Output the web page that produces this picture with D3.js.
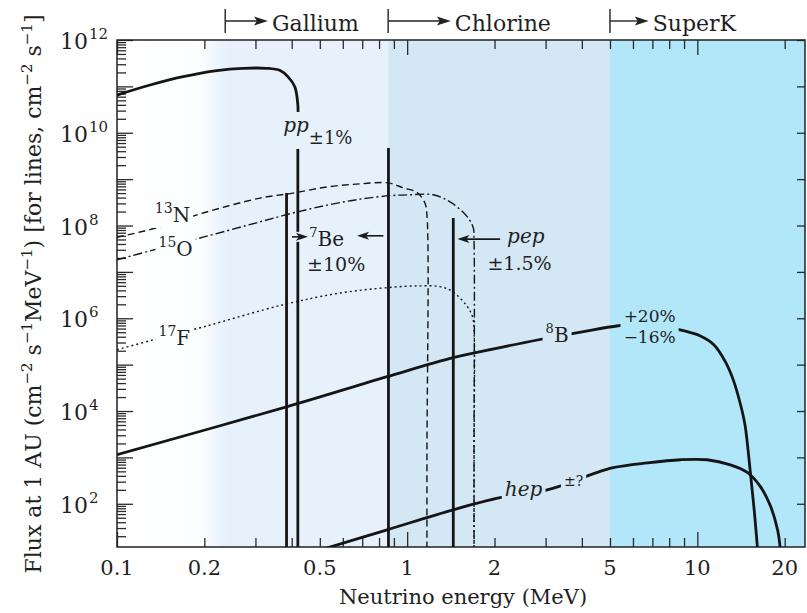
<!DOCTYPE html>
<html>
<head>
<meta charset="utf-8">
<script src="https://cdn.jsdelivr.net/npm/d3@7"></script>
<style>
  body { margin: 0; background: #fff; }
  svg { display: block; }
  text { font-family: "DejaVu Serif", serif; fill: #1f1f1f; }
</style>
</head>
<body>
<svg id="chart" width="807" height="613"></svg>
<script>
// ---- Solar neutrino spectrum (flux at 1 AU) ----

// Continuum spectra: energy (MeV) and flux (cm^-2 s^-1 MeV^-1)
const ppEnergy  = [0.1, 0.13, 0.169, 0.221, 0.272, 0.328, 0.365, 0.388, 0.41, 0.42, 0.42, 0.42, 0.42];
const ppFlux    = [6.5e10, 1.07e11, 1.62e11, 2.19e11, 2.45e11, 2.45e11, 2.19e11, 1.62e11, 9.8e10, 4.0e10, 1.5e10, 1e3, 4];

const n13Energy = [0.1, 0.137, 0.198, 0.311, 0.404, 0.53, 0.688, 0.862, 0.969, 1.08, 1.15, 1.17, 1.17, 1.17];
const n13Flux   = [5.6e7, 8.9e7, 1.86e8, 3.9e8, 5.0e8, 6.8e8, 7.9e8, 8.3e8, 6.5e8, 5.2e8, 3.1e8, 1.7e8, 1e3, 4];

const o15Energy = [0.1, 0.133, 0.198, 0.311, 0.404, 0.53, 0.688, 0.874, 1.02, 1.23, 1.41, 1.61, 1.69, 1.70, 1.70, 1.70];
const o15Flux   = [1.82e7, 2.95e7, 5.6e7, 1.2e8, 1.86e8, 2.75e8, 3.7e8, 4.4e8, 4.6e8, 4.6e8, 3.2e8, 1.55e8, 8.9e7, 4.9e7, 1e3, 4];

const f17Energy = [0.1, 0.133, 0.198, 0.373, 0.587, 0.862, 1.11, 1.30, 1.44, 1.61, 1.68, 1.70, 1.70, 1.70];
const f17Flux   = [2.1e5, 3.4e5, 6.5e5, 1.95e6, 3.5e6, 4.6e6, 5.0e6, 4.8e6, 3.7e6, 1.8e6, 1.07e6, 5.6e5, 1e3, 4];

const b8Energy  = [0.1, 0.384, 0.853, 1.44, 1.79, 2.81, 4.01, 5.34, 6.36, 7.45, 8.95, 10.2, 11.4, 12.5, 13.3, 14.1, 14.6, 15.2, 15.7, 16.1, 16.3];
const b8Flux    = [1.15e3, 1.23e4, 5.5e4, 1.41e5, 1.9e5, 3.4e5, 5.1e5, 6.9e5, 7.6e5, 6.9e5, 5.4e5, 4.2e5, 2.7e5, 1.15e5, 4.7e4, 1.35e4, 5.0e3, 540, 74, 12, 4];

const hepEnergy = [0.5, 0.853, 1.44, 2.09, 2.6, 3.04, 3.32, 4.35, 5.13, 6.72, 8.74, 10.8, 13.0, 14.9, 16.5, 17.9, 18.9, 19.3, 19.45];
const hepFlux   = [10, 27.5, 74, 135, 166, 200, 234, 437, 600, 760, 890, 890, 690, 470, 234, 87, 27.5, 11, 4];

// Line sources: energy (MeV) and flux (cm^-2 s^-1)
const lineNames  = ["7Be", "7Be", "pep"];
const lineEnergy = [0.384, 0.862, 1.442];
const lineFlux   = [5.0e8, 4.7e9, 1.45e8];

// Detector thresholds (MeV)
const detectorNames      = ["Gallium", "Chlorine", "SuperK"];
const detectorThresholds = [0.236, 0.86, 5.0];
const detectorLabelAt    = [0.342, 1.46, 7.02];

// Tick labels
const xTickLabels = [0.1, 0.2, 0.5, 1, 2, 5, 10, 20];
const yTickLabels = [1e2, 1e4, 1e6, 1e8, 1e10, 1e12];

// ---- layout ----
const W = 807, H = 613;
const plot = { left: 117, right: 805, top: 40, bottom: 547 };
const x = d3.scaleLog().domain([0.1, 23.5]).range([plot.left, plot.right]);
const y = d3.scaleLog().domain([11.7, 1e12]).range([plot.bottom, plot.top]);

const svg = d3.select("#chart");
const defs = svg.append("defs");

defs.append("clipPath").attr("id", "plotClip")
  .append("rect")
  .attr("x", plot.left).attr("y", plot.top)
  .attr("width", plot.right - plot.left).attr("height", plot.bottom - plot.top);

// Band 1 fades into the gallium band near its right edge
const grad = defs.append("linearGradient").attr("id", "fadeIn")
  .attr("x1", "0%").attr("x2", "100%").attr("y1", "0%").attr("y2", "0%");
grad.append("stop").attr("offset", "0%").attr("stop-color", "#ffffff");
grad.append("stop").attr("offset", "78%").attr("stop-color", "#fbfdff");
grad.append("stop").attr("offset", "100%").attr("stop-color", "#e7f1fb");

// ---- detector sensitivity bands ----
const bandColors = ["url(#fadeIn)", "#e7f1fb", "#d3e7f5", "#b2e6f9"];
const bandEdges = [x.domain()[0], ...detectorThresholds, x.domain()[1]];
svg.append("g").selectAll("rect")
  .data(bandColors)
  .join("rect")
  .attr("x", (d, i) => x(bandEdges[i]))
  .attr("width", (d, i) => x(bandEdges[i + 1]) - x(bandEdges[i]))
  .attr("y", plot.top).attr("height", plot.bottom - plot.top)
  .attr("fill", d => d);

// ---- axes (ticks point inward) ----
const decadeX = [];
[0.1, 1, 10].forEach(d => { for (let k = 1; k <= 9; k++) { const v = d * k; if (v <= 23.5 + 1e-9) decadeX.push(+v.toPrecision(3)); } });
const isMajorX = v => [0.1, 1, 10].includes(v);

const minorY = [];
for (let e = 1; e <= 12; e++) for (let k = 1; k <= 9; k++) {
  const v = k * Math.pow(10, e);
  if (v >= 11.7 && v <= 1e12 * 1.0001) minorY.push(v);
}
const isMajorY = v => Math.abs(Math.log10(v) - Math.round(Math.log10(v))) < 1e-6;

function styleAxis(g) {
  g.select(".domain").remove();
  g.selectAll(".tick line").attr("stroke", "#2a2a2a").attr("stroke-width", 1.3);
  g.selectAll(".tick text").remove();
}

svg.append("g").attr("transform", `translate(0,${plot.bottom})`)
  .call(d3.axisBottom(x).tickValues(decadeX).tickSizeOuter(0).tickSize(-9))
  .call(styleAxis)
  .call(g => g.selectAll(".tick line").attr("y2", d => isMajorX(d) ? -15 : -9));

svg.append("g").attr("transform", `translate(0,${plot.top})`)
  .call(d3.axisTop(x).tickValues(decadeX).tickSizeOuter(0).tickSize(-9))
  .call(styleAxis)
  .call(g => g.selectAll(".tick line").attr("y2", d => isMajorX(d) ? 15 : 9));

svg.append("g").attr("transform", `translate(${plot.left},0)`)
  .call(d3.axisLeft(y).tickValues(minorY).tickSizeOuter(0).tickSize(-9))
  .call(styleAxis)
  .call(g => g.selectAll(".tick line").attr("x2", d => isMajorY(d) ? 16 : 9));

svg.append("g").attr("transform", `translate(${plot.right},0)`)
  .call(d3.axisRight(y).tickValues(minorY.filter(isMajorY)).tickSizeOuter(0).tickSize(-8))
  .call(styleAxis);

// frame
svg.append("rect")
  .attr("x", plot.left).attr("y", plot.top)
  .attr("width", plot.right - plot.left).attr("height", plot.bottom - plot.top)
  .attr("fill", "none").attr("stroke", "#222").attr("stroke-width", 1.5);

// tick labels
svg.append("g").selectAll("text")
  .data(xTickLabels)
  .join("text")
  .attr("x", d => x(d)).attr("y", plot.bottom + 28)
  .attr("text-anchor", "middle").attr("font-size", 21)
  .text(d => String(d));

// y tick labels: base "10" right-aligned, exponent raised after it
const yLab = svg.append("g").selectAll("g")
  .data(yTickLabels)
  .join("g");
yLab.append("text")
  .attr("x", plot.left - 29).attr("y", d => y(d) + 9)
  .attr("text-anchor", "end").attr("font-size", 22)
  .text("10");
yLab.append("text")
  .attr("x", plot.left - 28).attr("y", d => y(d) - 1)
  .attr("font-size", 15)
  .text(d => String(Math.round(Math.log10(d))));

// axis titles
svg.append("text")
  .attr("x", 463).attr("y", 604)
  .attr("text-anchor", "middle").attr("font-size", 21)
  .text("Neutrino energy (MeV)");

const yt = svg.append("text")
  .attr("transform", "translate(41,294) rotate(-90)")
  .attr("text-anchor", "middle").attr("font-size", 22);
[["Flux at 1 AU (cm", 0], ["\u22122", 1], [" s", 0], ["\u22121", 1], ["MeV", 0], ["\u22121", 1],
 [") [for lines, cm", 0], ["\u22122", 1], [" s", 0], ["\u22121", 1], ["]", 0]]
  .forEach(([t, sup], i, arr) => {
    const prevSup = i > 0 && arr[i - 1][1];
    const dy = sup && !prevSup ? -9 : (!sup && prevSup ? 9 : 0);
    yt.append("tspan").attr("font-size", sup ? 15 : 22).attr("dy", dy).text(t);
  });

// ---- detector threshold markers (above the plot) ----
const det = svg.append("g");
detectorNames.forEach((name, i) => {
  const bx = x(detectorThresholds[i]);
  const lx = x(detectorLabelAt[i]);
  det.append("line").attr("x1", bx).attr("x2", bx).attr("y1", 9).attr("y2", 33)
    .attr("stroke", "#222").attr("stroke-width", 1.4);
  det.append("line").attr("x1", bx).attr("x2", lx - 14).attr("y1", 21).attr("y2", 21)
    .attr("stroke", "#222").attr("stroke-width", 1.4);
  det.append("path")
    .attr("d", `M${lx - 4},21 L${lx - 18},16.5 L${lx - 15},21 L${lx - 18},25.5 Z`)
    .attr("fill", "#222");
  det.append("text").attr("x", lx).attr("y", 31).attr("font-size", 22).text(name);
});

// ---- labels (drawn first so that curves can be gapped around them) ----
const labels = svg.append("g").attr("class", "labels");
function label(E, F, parts, anchor) {
  const t = labels.append("text").attr("x", x(E)).attr("y", y(F))
    .attr("text-anchor", anchor || "start");
  let shift = 0;
  parts.forEach(p => {
    const target = p.sup ? -p.sup : (p.sub ? p.sub : 0);
    t.append("tspan")
      .attr("dy", target - shift)
      .attr("font-size", p.size || 20)
      .attr("font-style", p.italic ? "italic" : null)
      .text(p.t);
    shift = target;
  });
  return t;
}
label(0.374, 1.04e10, [{ t: "pp", italic: true }, { t: "\u00b11%", size: 18, sub: 12 }]);
label(0.46, 3.6e7, [{ t: "7", size: 13, sup: 9 }, { t: "Be" }]);
label(0.452, 1.05e7, [{ t: "\u00b110%", size: 19 }]);
label(2.21, 4.2e7, [{ t: "pep", italic: true }]);
label(1.89, 1.1e7, [{ t: "\u00b11.5%", size: 19 }]);
label(0.135, 1.2e8, [{ t: "13", size: 14, sup: 9 }, { t: "N" }]);
label(0.139, 2.2e7, [{ t: "15", size: 14, sup: 9 }, { t: "O" }]);
label(0.139, 2.7e5, [{ t: "17", size: 14, sup: 9 }, { t: "F" }]);
label(3.0, 3.1e5, [{ t: "8", size: 13, sup: 9 }, { t: "B" }]);
label(6.85, 8.4e5, [{ t: "+20%", size: 17 }], "middle");
label(6.85, 3.0e5, [{ t: "\u221216%", size: 17 }], "middle");
label(2.17, 148, [{ t: "hep", italic: true }]);
label(3.47, 245, [{ t: "\u00b1?", size: 14 }]);

// arrows pointing at the line sources
const arrows = svg.append("g");
function arrow(E0, E1, F) {
  const x0 = x(E0), x1 = x(E1), yy = y(F);
  const dir = Math.sign(x1 - x0);
  const g = arrows.append("g");
  g.append("line").attr("x1", x0).attr("x2", x1 - dir * 8).attr("y1", yy).attr("y2", yy)
    .attr("stroke", "#1a1a1a").attr("stroke-width", 1.6);
  g.append("path")
    .attr("d", `M${x1},${yy} L${x1 - dir * 12},${yy - 4} L${x1 - dir * 9},${yy} L${x1 - dir * 12},${yy + 4} Z`)
    .attr("fill", "#1a1a1a");
  return g;
}
const beLeft = arrow(0.401, 0.455, 5.7e7);
arrow(0.828, 0.672, 6.0e7);
arrow(2.09, 1.49, 5.1e7);

// mask: curves are interrupted where labels sit
const mask = defs.append("mask").attr("id", "labelGaps")
  .attr("maskUnits", "userSpaceOnUse")
  .attr("x", 0).attr("y", 0).attr("width", W).attr("height", H);
mask.append("rect").attr("x", 0).attr("y", 0).attr("width", W).attr("height", H).attr("fill", "white");
const gapNodes = labels.selectAll("text").nodes().concat([beLeft.node()]);
gapNodes.forEach(n => {
  const b = n.getBBox();
  const pad = 3;
  mask.append("rect")
    .attr("x", b.x - pad).attr("y", b.y - pad + 2)
    .attr("width", b.width + 2 * pad).attr("height", b.height + 2 * pad - 4)
    .attr("fill", "black");
});

// ---- spectra ----
const curves = svg.append("g").attr("clip-path", "url(#plotClip)")
  .append("g").attr("mask", "url(#labelGaps)");

const line = d3.line()
  .x(d => x(d[0])).y(d => y(d[1]))
  .curve(d3.curveCatmullRom.alpha(0.5));

const series = [
  { E: ppEnergy,  F: ppFlux,  width: 2.8, dash: null },
  { E: b8Energy,  F: b8Flux,  width: 2.8, dash: null },
  { E: hepEnergy, F: hepFlux, width: 2.8, dash: null },
  { E: n13Energy, F: n13Flux, width: 1.4, dash: "7,4" },
  { E: o15Energy, F: o15Flux, width: 1.4, dash: "9,3,2,3" },
  { E: f17Energy, F: f17Flux, width: 1.4, dash: "2,3" }
];
curves.selectAll("path.spec")
  .data(series)
  .join("path")
  .attr("class", "spec")
  .attr("d", s => line(s.E.map((e, i) => [e, s.F[i]])))
  .attr("fill", "none")
  .attr("stroke", "#151515")
  .attr("stroke-width", s => s.width)
  .attr("stroke-dasharray", s => s.dash)
  .attr("stroke-linejoin", "round");

// monoenergetic lines
curves.selectAll("line.src")
  .data(lineEnergy)
  .join("line")
  .attr("class", "src")
  .attr("x1", d => x(d)).attr("x2", d => x(d))
  .attr("y1", (d, i) => y(lineFlux[i])).attr("y2", plot.bottom)
  .attr("stroke", "#151515").attr("stroke-width", 2.8);
</script>
</body>
</html>
